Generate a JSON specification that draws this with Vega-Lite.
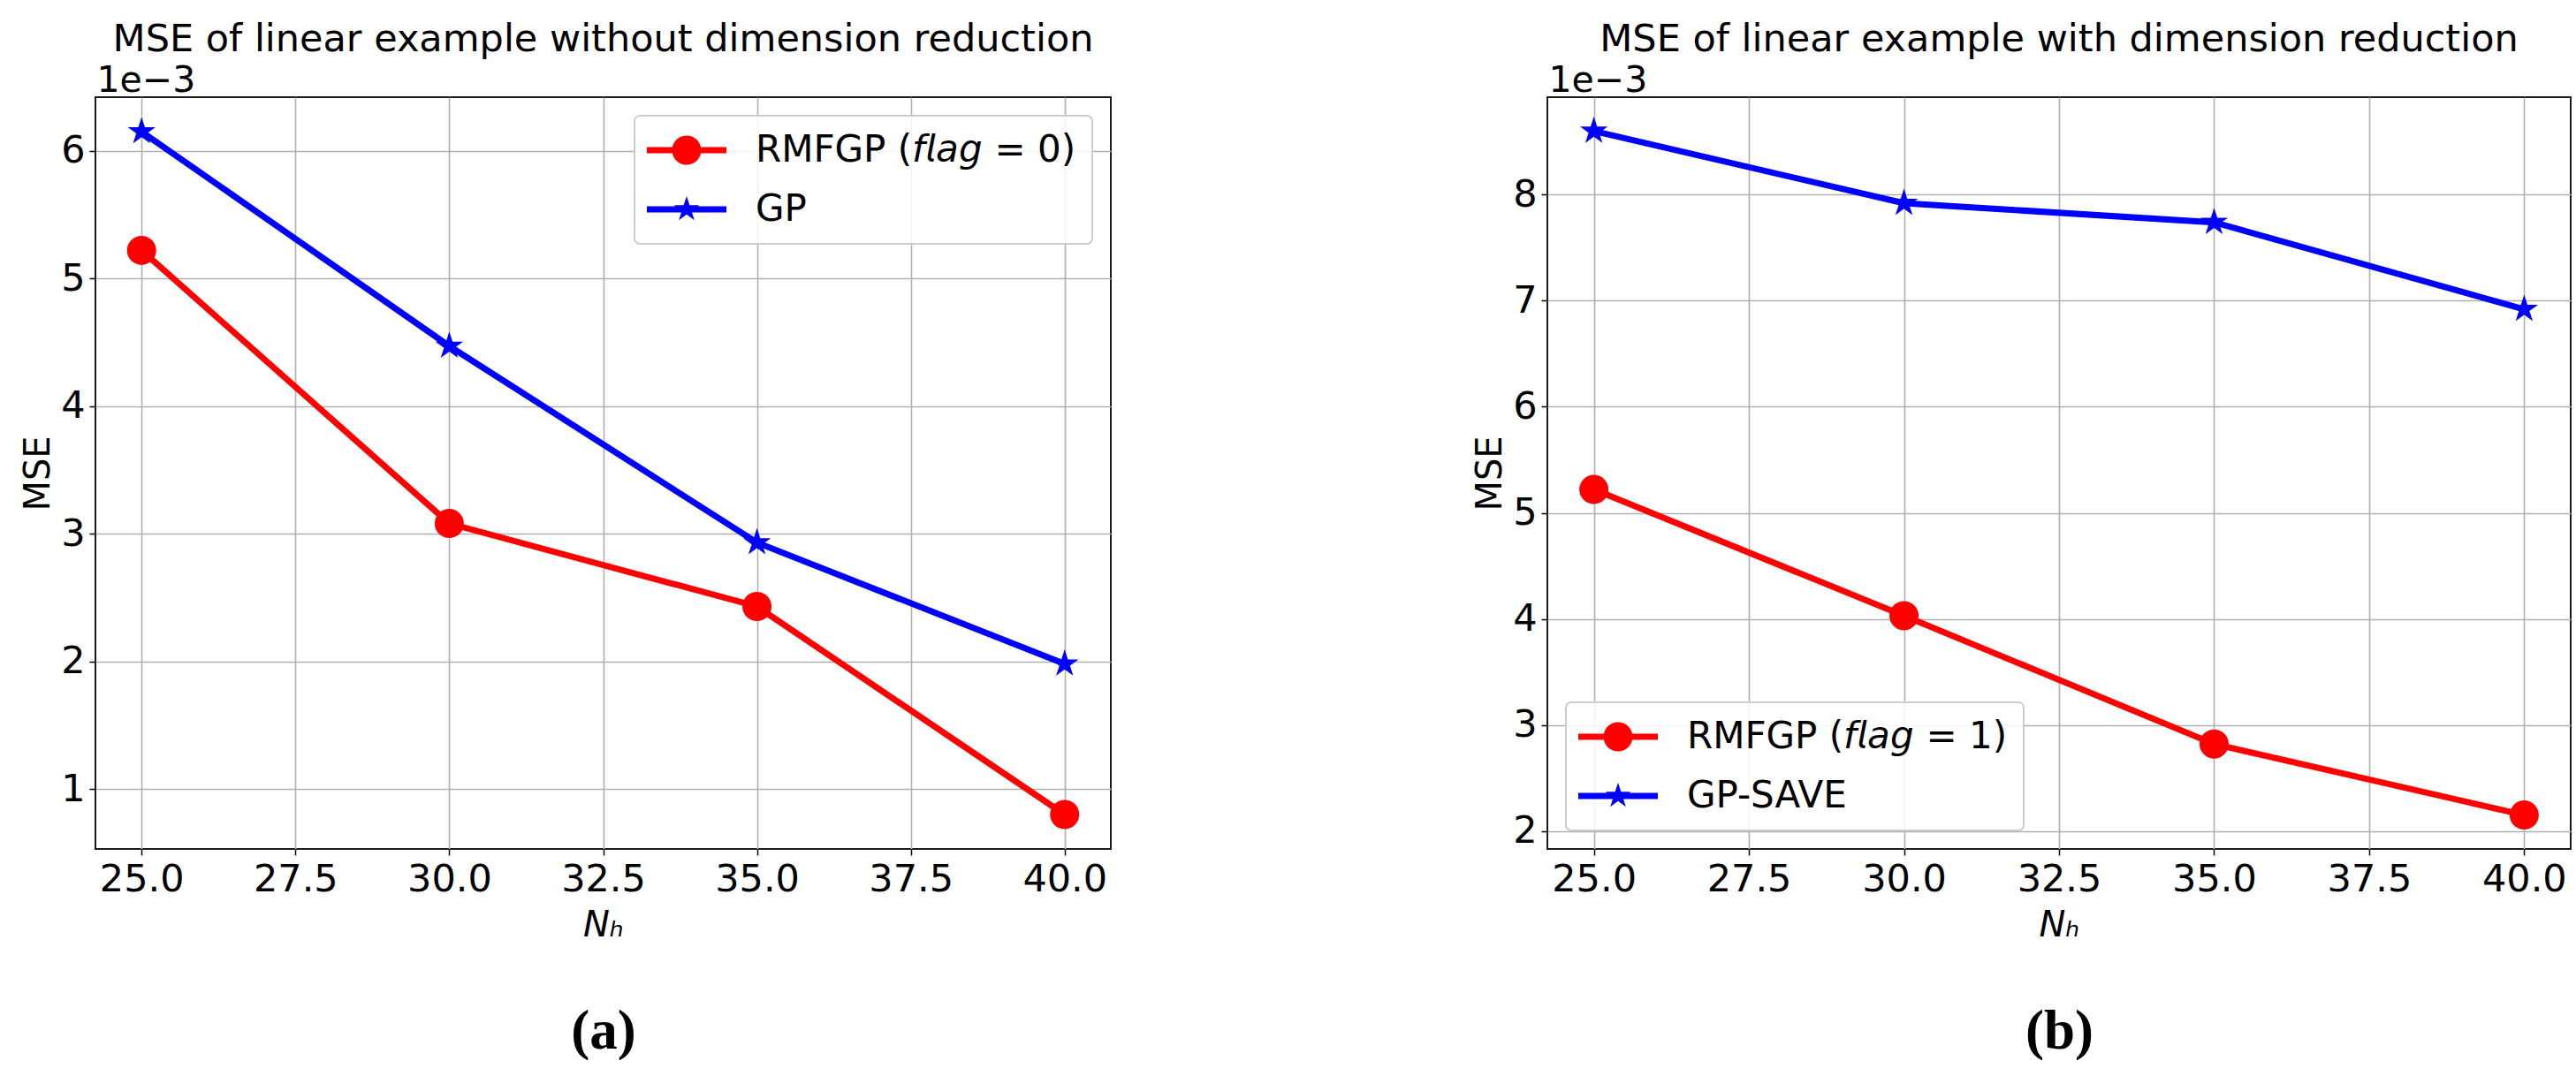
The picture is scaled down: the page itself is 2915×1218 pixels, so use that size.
{
  "$schema": "https://vega.github.io/schema/vega-lite/v6.json",
  "background": "white",
  "padding": {"left": 22, "top": 23, "right": 5, "bottom": 5},
  "config": {
    "font": "DejaVu Sans",
    "view": {"stroke": "#1a1a1a", "strokeWidth": 2},
    "axis": {
      "labelFont": "DejaVu Sans", "titleFont": "DejaVu Sans",
      "labelColor": "black", "titleColor": "black",
      "titleFontWeight": "normal", "labelFontSize": 43, "titleFontSize": 40,
      "tickColor": "black", "tickWidth": 1.5, "tickSize": 7,
      "gridColor": "#b0b0b0", "gridWidth": 1.6, "domain": false
    },
    "title": {"font": "DejaVu Sans", "fontSize": 43, "fontWeight": "normal", "color": "black", "frame": "group", "offset": 3},
    "legend": {
      "labelFont": "DejaVu Sans", "labelFontSize": 42, "labelColor": "black", "labelLimit": 0,
      "fillColor": "rgba(255,255,255,0.85)", "strokeColor": "#cccccc", "strokeWidth": 2,
      "cornerRadius": 6, "padding": 18, "symbolSize": 1600, "rowPadding": 25,
      "symbolOffset": 20, "labelOffset": 57, "offset": 21
    }
  },
  "resolve": {"scale": {"color": "independent"}},
  "hconcat": [
    {
      "width": 1149,
      "height": 851,
      "title": {"text": "MSE of linear example without dimension reduction"},
      "data": {"values": [
        {"N": 25, "MSE": 5.22, "series": "RMFGP (flag = 0)"},
        {"N": 30, "MSE": 3.08, "series": "RMFGP (flag = 0)"},
        {"N": 35, "MSE": 2.43, "series": "RMFGP (flag = 0)"},
        {"N": 40, "MSE": 0.80, "series": "RMFGP (flag = 0)"},
        {"N": 25, "MSE": 6.15, "series": "GP"},
        {"N": 30, "MSE": 4.47, "series": "GP"},
        {"N": 35, "MSE": 2.93, "series": "GP"},
        {"N": 40, "MSE": 1.98, "series": "GP"}
      ]},
      "resolve": {"axis": {"x": "independent", "y": "independent"}},
      "layer": [
        {
          "mark": {"type": "line", "strokeWidth": 7},
          "encoding": {
            "x": {"field": "N", "type": "quantitative",
              "scale": {"domain": [24.25, 40.75], "nice": false, "zero": false},
              "axis": {"values": [25, 27.5, 30, 32.5, 35, 37.5, 40], "format": ".1f", "title": "Nₕ", "titleFontStyle": "italic", "titlePadding": 10, "labelPadding": 6}},
            "y": {"field": "MSE", "type": "quantitative",
              "scale": {"domain": [0.53, 6.42], "nice": false, "zero": false},
              "axis": {"values": [1, 2, 3, 4, 5, 6], "format": "d", "title": "MSE", "titlePadding": 5, "labelPadding": 5}},
            "color": {"field": "series", "type": "nominal", "sort": ["RMFGP (flag = 0)", "GP"],
              "scale": {"domain": ["RMFGP (flag = 0)", "GP"], "range": ["#ff0000", "#0000ff"]},
              "legend": {
                "title": null, "orient": "top-right",
                "labelExpr": "replace(datum.label, 'flag', '𝘧𝘭𝘢𝘨')",
                "encode": {"symbols": {"update": {
                  "shape": {"signal": "datum.value === 'GP' ? 'M-2.25,-0.175H2.25V0.175H-2.25Z M0,-0.75L0.168,-0.232L0.713,-0.232L0.272,0.089L0.441,0.607L0,0.287L-0.441,0.607L-0.272,0.089L-0.713,-0.232L-0.168,-0.232Z' : 'M-2.25,-0.175H2.25V0.175H-2.25Z M-0.825,0A0.825,0.825 0 1,1 0.825,0A0.825,0.825 0 1,1 -0.825,0Z'"},
                  "fill": {"signal": "datum.value === 'GP' ? '#0000ff' : '#ff0000'"},
                  "stroke": {"value": "transparent"},
                  "strokeWidth": {"value": 0},
                  "size": {"value": 1600},
                  "opacity": {"value": 1}
                }}}
              }}
          }
        },
        {
          "transform": [{"filter": "datum.series !== 'GP'"}],
          "mark": {"type": "point", "shape": "circle", "filled": true, "opacity": 1, "size": 1089},
          "encoding": {
            "x": {"field": "N", "type": "quantitative",
              "axis": {"orient": "bottom", "domain": false, "ticks": false, "labels": false, "grid": false,
                "title": "(a)", "titleFont": "Liberation Serif", "titleFontWeight": "bold", "titleFontSize": 63,
                "titleY": 225, "titleBaseline": "alphabetic"}},
            "y": {"field": "MSE", "type": "quantitative",
              "axis": {"orient": "left", "domain": false, "ticks": false, "labels": false, "grid": false,
                "title": "1e−3", "titleAngle": 0, "titleX": 1, "titleY": -7, "titleAlign": "left", "titleBaseline": "alphabetic", "titleFontSize": 41}},
            "color": {"field": "series", "type": "nominal"}
          }
        },
        {
          "transform": [{"filter": "datum.series === 'GP'"}],
          "mark": {"type": "point", "shape": "M0,-1L0.2245,-0.309L0.951,-0.309L0.363,0.118L0.588,0.809L0,0.382L-0.588,0.809L-0.363,0.118L-0.951,-0.309L-0.2245,-0.309Z", "filled": true, "opacity": 1, "size": 1089},
          "encoding": {
            "x": {"field": "N", "type": "quantitative", "axis": null},
            "y": {"field": "MSE", "type": "quantitative", "axis": null},
            "color": {"field": "series", "type": "nominal"}
          }
        }
      ]
    },
    {
      "width": 1158,
      "height": 851,
      "title": {"text": "MSE of linear example with dimension reduction"},
      "data": {"values": [
        {"N": 25, "MSE": 5.22, "series": "RMFGP (flag = 1)"},
        {"N": 30, "MSE": 4.03, "series": "RMFGP (flag = 1)"},
        {"N": 35, "MSE": 2.82, "series": "RMFGP (flag = 1)"},
        {"N": 40, "MSE": 2.15, "series": "RMFGP (flag = 1)"},
        {"N": 25, "MSE": 8.60, "series": "GP-SAVE"},
        {"N": 30, "MSE": 7.92, "series": "GP-SAVE"},
        {"N": 35, "MSE": 7.74, "series": "GP-SAVE"},
        {"N": 40, "MSE": 6.92, "series": "GP-SAVE"}
      ]},
      "resolve": {"axis": {"x": "independent", "y": "independent"}},
      "layer": [
        {
          "mark": {"type": "line", "strokeWidth": 7},
          "encoding": {
            "x": {"field": "N", "type": "quantitative",
              "scale": {"domain": [24.25, 40.75], "nice": false, "zero": false},
              "axis": {"values": [25, 27.5, 30, 32.5, 35, 37.5, 40], "format": ".1f", "title": "Nₕ", "titleFontStyle": "italic", "titlePadding": 10, "labelPadding": 6}},
            "y": {"field": "MSE", "type": "quantitative",
              "scale": {"domain": [1.83, 8.92], "nice": false, "zero": false},
              "axis": {"values": [2, 3, 4, 5, 6, 7, 8], "format": "d", "title": "MSE", "titlePadding": 5, "labelPadding": 5}},
            "color": {"field": "series", "type": "nominal", "sort": ["RMFGP (flag = 1)", "GP-SAVE"],
              "scale": {"domain": ["RMFGP (flag = 1)", "GP-SAVE"], "range": ["#ff0000", "#0000ff"]},
              "legend": {
                "title": null, "orient": "bottom-left",
                "labelExpr": "replace(datum.label, 'flag', '𝘧𝘭𝘢𝘨')",
                "encode": {"symbols": {"update": {
                  "shape": {"signal": "datum.value === 'GP-SAVE' ? 'M-2.25,-0.175H2.25V0.175H-2.25Z M0,-0.75L0.168,-0.232L0.713,-0.232L0.272,0.089L0.441,0.607L0,0.287L-0.441,0.607L-0.272,0.089L-0.713,-0.232L-0.168,-0.232Z' : 'M-2.25,-0.175H2.25V0.175H-2.25Z M-0.825,0A0.825,0.825 0 1,1 0.825,0A0.825,0.825 0 1,1 -0.825,0Z'"},
                  "fill": {"signal": "datum.value === 'GP-SAVE' ? '#0000ff' : '#ff0000'"},
                  "stroke": {"value": "transparent"},
                  "strokeWidth": {"value": 0},
                  "size": {"value": 1600},
                  "opacity": {"value": 1}
                }}}
              }}
          }
        },
        {
          "transform": [{"filter": "datum.series !== 'GP-SAVE'"}],
          "mark": {"type": "point", "shape": "circle", "filled": true, "opacity": 1, "size": 1089},
          "encoding": {
            "x": {"field": "N", "type": "quantitative",
              "axis": {"orient": "bottom", "domain": false, "ticks": false, "labels": false, "grid": false,
                "title": "(b)", "titleFont": "Liberation Serif", "titleFontWeight": "bold", "titleFontSize": 63,
                "titleY": 225, "titleBaseline": "alphabetic"}},
            "y": {"field": "MSE", "type": "quantitative",
              "axis": {"orient": "left", "domain": false, "ticks": false, "labels": false, "grid": false,
                "title": "1e−3", "titleAngle": 0, "titleX": 1, "titleY": -7, "titleAlign": "left", "titleBaseline": "alphabetic", "titleFontSize": 41}},
            "color": {"field": "series", "type": "nominal"}
          }
        },
        {
          "transform": [{"filter": "datum.series === 'GP-SAVE'"}],
          "mark": {"type": "point", "shape": "M0,-1L0.2245,-0.309L0.951,-0.309L0.363,0.118L0.588,0.809L0,0.382L-0.588,0.809L-0.363,0.118L-0.951,-0.309L-0.2245,-0.309Z", "filled": true, "opacity": 1, "size": 1089},
          "encoding": {
            "x": {"field": "N", "type": "quantitative", "axis": null},
            "y": {"field": "MSE", "type": "quantitative", "axis": null},
            "color": {"field": "series", "type": "nominal"}
          }
        }
      ]
    }
  ],
  "spacing": 494,
  "bounds": "flush"
}
